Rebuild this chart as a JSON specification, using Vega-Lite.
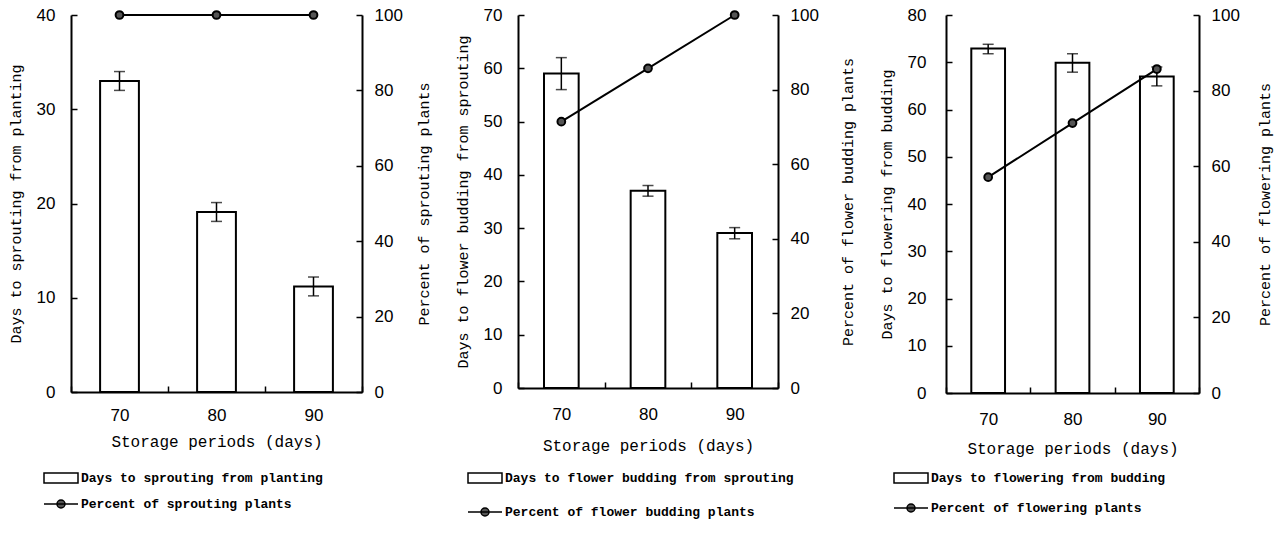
{
  "$schema": "https://vega.github.io/schema/vega-lite/v6.json",
  "padding": {"left": 8, "top": 6, "right": 16, "bottom": 0},
  "background": "white",
  "spacing": 23,
  "config": {
    "view": {"stroke": null},
    "axis": {
      "grid": false,
      "labelFont": "Liberation Sans",
      "labelFontSize": 17,
      "labelColor": "black",
      "titleFont": "Liberation Mono",
      "titleFontSize": 15,
      "titleFontWeight": "normal",
      "titleColor": "black",
      "domainColor": "black",
      "domainWidth": 2,
      "tickColor": "black",
      "tickWidth": 1.5,
      "tickSize": -6
    },
    "axisLeft": {"labelPadding": 22, "titlePadding": 13},
    "axisRight": {"labelPadding": 18, "titlePadding": 18, "titleAngle": 270, "titleBaseline": "top"},
    "axisX": {"titleFontSize": 16, "labelAngle": 0, "tickBand": "extent", "labelPadding": 21, "titlePadding": 10},
    "legend": {
      "orient": "bottom",
      "direction": "vertical",
      "labelFont": "Liberation Mono",
      "labelFontSize": 13,
      "labelFontWeight": "bold",
      "labelColor": "black",
      "labelLimit": 0,
      "symbolSize": 400,
      "symbolStrokeColor": "black",
      "symbolStrokeWidth": 1.5,
      "symbolOpacity": 1,
      "rowPadding": 7
    }
  },
  "resolve": {
    "scale": {"shape": "independent", "fill": "independent", "stroke": "independent"},
    "legend": {"shape": "independent", "fill": "independent", "stroke": "independent"}
  },
  "hconcat": [
    {
      "width": 291,
      "height": 377,
      "data": {"values": [
        {"period": "70", "days": 33, "lo": 32, "hi": 34, "pct": 100, "lg": "Percent of sprouting plants"},
        {"period": "80", "days": 19.1, "lo": 18.1, "hi": 20.1, "pct": 100, "lg": "Percent of sprouting plants"},
        {"period": "90", "days": 11.2, "lo": 10.2, "hi": 12.2, "pct": 100, "lg": "Percent of sprouting plants"}
      ]},
      "encoding": {
        "x": {"field": "period", "type": "ordinal", "title": "Storage periods (days)", "scale": {"paddingInner": 0, "paddingOuter": 0}}
      },
      "layer": [
        {"layer": [
          {"mark": {"type": "bar", "fill": "white", "stroke": "black", "strokeWidth": 2, "width": {"band": 0.4}},
           "encoding": {"y": {"field": "days", "type": "quantitative", "scale": {"domain": [0, 40]}, "axis": {"values": [0, 10, 20, 30, 40]}, "title": "Days to sprouting from planting"}}},
          {"mark": {"type": "errorbar", "ticks": {"size": 11, "thickness": 1.5, "color": "black"}, "rule": {"strokeWidth": 1.5, "color": "black"}},
           "encoding": {"y": {"field": "lo", "type": "quantitative", "title": "Days to sprouting from planting"}, "y2": {"field": "hi"}}}
        ]},
        {"layer": [
          {"mark": {"type": "line", "color": "black", "strokeWidth": 2},
           "encoding": {"y": {"field": "pct", "type": "quantitative", "scale": {"domain": [0, 100]}, "axis": {"orient": "right", "values": [0, 20, 40, 60, 80, 100], "titlePadding": 14}, "title": "Percent of sprouting plants"}}},
          {"mark": {"type": "point", "shape": "circle", "filled": true, "fill": "#555", "stroke": "black", "strokeWidth": 2, "size": 60, "opacity": 1},
           "encoding": {"y": {"field": "pct", "type": "quantitative", "title": "Percent of sprouting plants"}}},
          {"mark": {"type": "point", "opacity": 0, "strokeWidth": 1.5},
           "encoding": {
             "y": {"field": "pct", "type": "quantitative", "title": "Percent of sprouting plants"},
             "shape": {"field": "lg", "type": "nominal", "title": null, "legend": {"labelOffset": -12}, "scale": {"domain": ["Days to sprouting from planting", "Percent of sprouting plants"], "range": ["M-3.8,-0.5H-0.4V0.5H-3.8Z", "M-3.8,0H-0.4M-2.5,0A0.4,0.4 0 1,0 -1.7,0A0.4,0.4 0 1,0 -2.5,0Z"]}},
             "fill": {"field": "lg", "type": "nominal", "title": null, "legend": {"labelOffset": -12}, "scale": {"domain": ["Days to sprouting from planting", "Percent of sprouting plants"], "range": ["white", "#555"]}},
             "stroke": {"field": "lg", "type": "nominal", "title": null, "legend": {"labelOffset": -12}, "scale": {"domain": ["Days to sprouting from planting", "Percent of sprouting plants"], "range": ["black", "black"]}}
           }}
        ]}
      ],
      "resolve": {"scale": {"y": "independent"}}
    },
    {
      "width": 260,
      "height": 373,
      "data": {"values": [
        {"period": "70", "days": 59, "lo": 56, "hi": 62, "pct": 71.4, "lg": "Percent of flower budding plants"},
        {"period": "80", "days": 37, "lo": 36, "hi": 38, "pct": 85.7, "lg": "Percent of flower budding plants"},
        {"period": "90", "days": 29.1, "lo": 28, "hi": 30.1, "pct": 100, "lg": "Percent of flower budding plants"}
      ]},
      "encoding": {
        "x": {"field": "period", "type": "ordinal", "title": "Storage periods (days)", "scale": {"paddingInner": 0, "paddingOuter": 0}, "axis": {"labelPadding": 24, "titlePadding": 15}}
      },
      "layer": [
        {"layer": [
          {"mark": {"type": "bar", "fill": "white", "stroke": "black", "strokeWidth": 2, "width": {"band": 0.4}},
           "encoding": {"y": {"field": "days", "type": "quantitative", "scale": {"domain": [0, 70]}, "axis": {"values": [0, 10, 20, 30, 40, 50, 60, 70]}, "title": "Days to flower budding from sprouting"}}},
          {"mark": {"type": "errorbar", "ticks": {"size": 11, "thickness": 1.5, "color": "black"}, "rule": {"strokeWidth": 1.5, "color": "black"}},
           "encoding": {"y": {"field": "lo", "type": "quantitative", "title": "Days to flower budding from sprouting"}, "y2": {"field": "hi"}}}
        ]},
        {"layer": [
          {"mark": {"type": "line", "color": "black", "strokeWidth": 2},
           "encoding": {"y": {"field": "pct", "type": "quantitative", "scale": {"domain": [0, 100]}, "axis": {"orient": "right", "values": [0, 20, 40, 60, 80, 100], "titlePadding": 22}, "title": "Percent of flower budding plants"}}},
          {"mark": {"type": "point", "shape": "circle", "filled": true, "fill": "#555", "stroke": "black", "strokeWidth": 2, "size": 60, "opacity": 1},
           "encoding": {"y": {"field": "pct", "type": "quantitative", "title": "Percent of flower budding plants"}}},
          {"mark": {"type": "point", "opacity": 0, "strokeWidth": 1.5},
           "encoding": {
             "y": {"field": "pct", "type": "quantitative", "title": "Percent of flower budding plants"},
             "shape": {"field": "lg", "type": "nominal", "title": null, "legend": {"labelOffset": -35, "offset": 14, "rowPadding": 15}, "scale": {"domain": ["Days to flower budding from sprouting", "Percent of flower budding plants"], "range": ["M-6.1,-0.5H-2.7V0.5H-6.1Z", "M-6.1,0H-2.7M-4.8,0A0.4,0.4 0 1,0 -4,0A0.4,0.4 0 1,0 -4.8,0Z"]}},
             "fill": {"field": "lg", "type": "nominal", "title": null, "legend": {"labelOffset": -35, "offset": 14, "rowPadding": 15}, "scale": {"domain": ["Days to flower budding from sprouting", "Percent of flower budding plants"], "range": ["white", "#555"]}},
             "stroke": {"field": "lg", "type": "nominal", "title": null, "legend": {"labelOffset": -35, "offset": 14, "rowPadding": 15}, "scale": {"domain": ["Days to flower budding from sprouting", "Percent of flower budding plants"], "range": ["black", "black"]}}
           }}
        ]}
      ],
      "resolve": {"scale": {"y": "independent"}}
    },
    {
      "width": 253,
      "height": 378,
      "data": {"values": [
        {"period": "70", "days": 72.9, "lo": 71.8, "hi": 73.8, "pct": 57.1, "lg": "Percent of flowering plants"},
        {"period": "80", "days": 69.9, "lo": 67.9, "hi": 71.8, "pct": 71.4, "lg": "Percent of flowering plants"},
        {"period": "90", "days": 67, "lo": 65, "hi": 69, "pct": 85.7, "lg": "Percent of flowering plants"}
      ]},
      "encoding": {
        "x": {"field": "period", "type": "ordinal", "title": "Storage periods (days)", "scale": {"paddingInner": 0, "paddingOuter": 0}, "axis": {"labelPadding": 24, "titlePadding": 13}}
      },
      "layer": [
        {"layer": [
          {"mark": {"type": "bar", "fill": "white", "stroke": "black", "strokeWidth": 2, "width": {"band": 0.4}},
           "encoding": {"y": {"field": "days", "type": "quantitative", "scale": {"domain": [0, 80]}, "axis": {"values": [0, 10, 20, 30, 40, 50, 60, 70, 80], "labelPadding": 26}, "title": "Days to flowering from budding"}}},
          {"mark": {"type": "errorbar", "ticks": {"size": 11, "thickness": 1.5, "color": "black"}, "rule": {"strokeWidth": 1.5, "color": "black"}},
           "encoding": {"y": {"field": "lo", "type": "quantitative", "title": "Days to flowering from budding"}, "y2": {"field": "hi"}}}
        ]},
        {"layer": [
          {"mark": {"type": "line", "color": "black", "strokeWidth": 2},
           "encoding": {"y": {"field": "pct", "type": "quantitative", "scale": {"domain": [0, 100]}, "axis": {"orient": "right", "values": [0, 20, 40, 60, 80, 100]}, "title": "Percent of flowering plants"}}},
          {"mark": {"type": "point", "shape": "circle", "filled": true, "fill": "#555", "stroke": "black", "strokeWidth": 2, "size": 60, "opacity": 1},
           "encoding": {"y": {"field": "pct", "type": "quantitative", "title": "Percent of flowering plants"}}},
          {"mark": {"type": "point", "opacity": 0, "strokeWidth": 1.5},
           "encoding": {
             "y": {"field": "pct", "type": "quantitative", "title": "Percent of flowering plants"},
             "shape": {"field": "lg", "type": "nominal", "title": null, "legend": {"labelOffset": -37, "offset": 11, "rowPadding": 11}, "scale": {"domain": ["Days to flowering from budding", "Percent of flowering plants"], "range": ["M-6.3,-0.5H-2.9V0.5H-6.3Z", "M-6.3,0H-2.9M-5,0A0.4,0.4 0 1,0 -4.2,0A0.4,0.4 0 1,0 -5,0Z"]}},
             "fill": {"field": "lg", "type": "nominal", "title": null, "legend": {"labelOffset": -37, "offset": 11, "rowPadding": 11}, "scale": {"domain": ["Days to flowering from budding", "Percent of flowering plants"], "range": ["white", "#555"]}},
             "stroke": {"field": "lg", "type": "nominal", "title": null, "legend": {"labelOffset": -37, "offset": 11, "rowPadding": 11}, "scale": {"domain": ["Days to flowering from budding", "Percent of flowering plants"], "range": ["black", "black"]}}
           }}
        ]}
      ],
      "resolve": {"scale": {"y": "independent"}}
    }
  ]
}
